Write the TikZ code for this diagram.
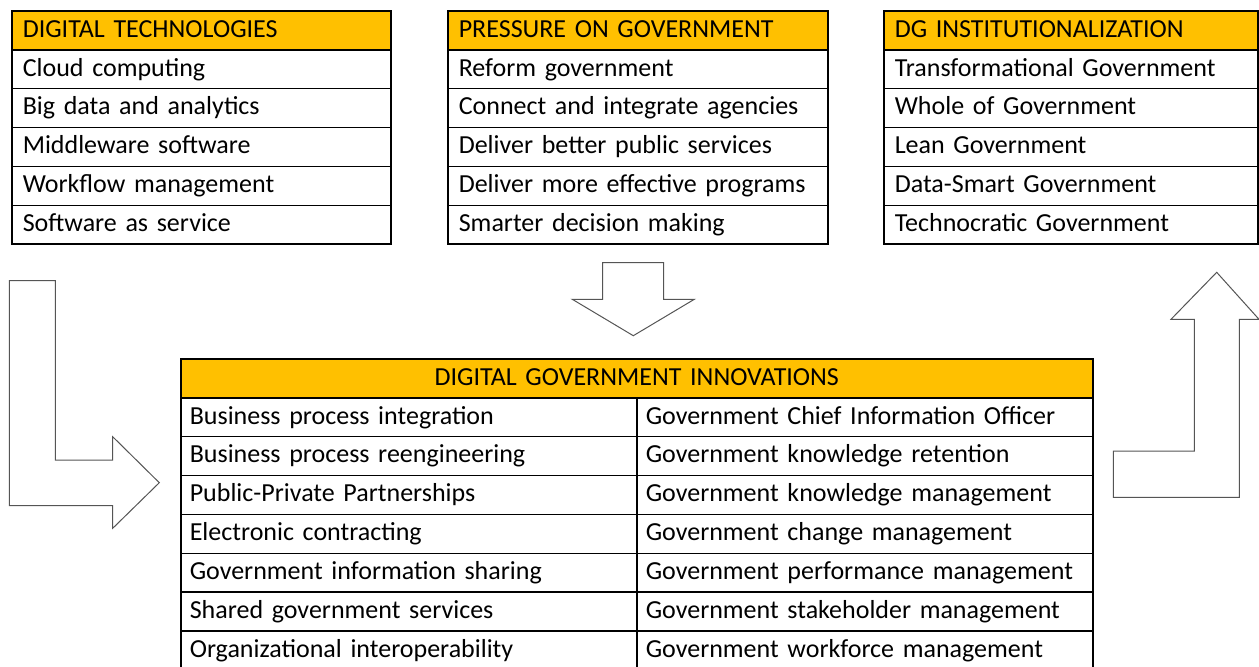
\documentclass[tikz,border=0pt]{standalone}
\usepackage{fontspec}
\setmainfont{Carlito}
\definecolor{headgold}{HTML}{FFC000}
\definecolor{arrowgray}{HTML}{555555}
\tikzset{
  cell/.style={draw, line width=1.6pt, anchor=north west, minimum height=38.9pt,
    inner ysep=0pt, inner xsep=11pt, align=left, text height=16pt, text depth=2.3pt,
    font=\fontsize{26}{30}\selectfont},
  head/.style={cell, fill=headgold},
  bigarrow/.style={draw=arrowgray, line width=1pt, fill=white, line join=miter}
}
\begin{document}
\begin{tikzpicture}[x=1pt,y=-1pt]
        \useasboundingbox (0,0) rectangle (1259,667);
        % three boxes on top
        \node[head,text width=357pt] (tech0) at (11,10) {DIGITAL TECHNOLOGIES};
        \foreach \t [count=\i] in {Cloud computing,Big data and analytics,Middleware software,Workflow management,Software as service}
            \node[cell,text width=357pt] (tech\i) at (11,{10+\i*38.9}) {\t};
        \node[head,text width=358pt] (press0) at (447,10) {PRESSURE ON GOVERNMENT};
        \foreach \t [count=\i] in {Reform government,Connect and integrate agencies,Deliver better public services,Deliver more effective programs,Smarter decision making}
            \node[cell,text width=358pt] (press\i) at (447,{10+\i*38.9}) {\t};
        \node[head,text width=352pt] (inst0) at (883,10) {DG INSTITUTIONALIZATION};
        \foreach \t [count=\i] in {Transformational Government,Whole of Government,Lean Government,Data-Smart Government,Technocratic Government}
            \node[cell,text width=352pt] (inst\i) at (883,{10+\i*38.9}) {\t};
        % innovations table
        \node[head,text width=894pt,align=center,inner xsep=9pt] (innov0) at (180,358) {DIGITAL GOVERNMENT INNOVATIONS};
        \foreach \t [count=\i] in {Business process integration,Business process reengineering,Public-Private Partnerships,Electronic contracting,Government information sharing,Shared government services,Organizational interoperability}
            \node[cell,text width=438pt,inner xsep=9pt] (innovl\i) at (180,{358+\i*38.9}) {\t};
        \foreach \t [count=\i] in {Government Chief Information Officer,Government knowledge retention,Government knowledge management,Government change management,Government performance management,Government stakeholder management,Government workforce management}
            \node[cell,text width=438pt,inner xsep=9pt] (innovr\i) at (636,{358+\i*38.9}) {\t};
        % block arrows
        \draw[bigarrow] (9.3,280.7) -- (55.3,280.7) -- (55.3,460) -- (112.7,460) -- (112.7,436.7)
            -- (159.3,482.7) -- (112.7,528.3) -- (112.7,505.7) -- (9.3,505.7) -- cycle;
        \draw[bigarrow] (602.7,262.7) -- (663.7,262.7) -- (663.7,299.3) -- (694.3,299.3)
            -- (633.3,335.7) -- (572.3,299.3) -- (602.7,299.3) -- cycle;
        \draw[bigarrow] (1113.3,497.3) -- (1113.3,451) -- (1194.3,451) -- (1194.3,319.3) -- (1171,319.3)
            -- (1216.7,272.3) -- (1259,319.3) -- (1239.3,319.3) -- (1239.3,497.3) -- cycle;
\end{tikzpicture}
\end{document}
